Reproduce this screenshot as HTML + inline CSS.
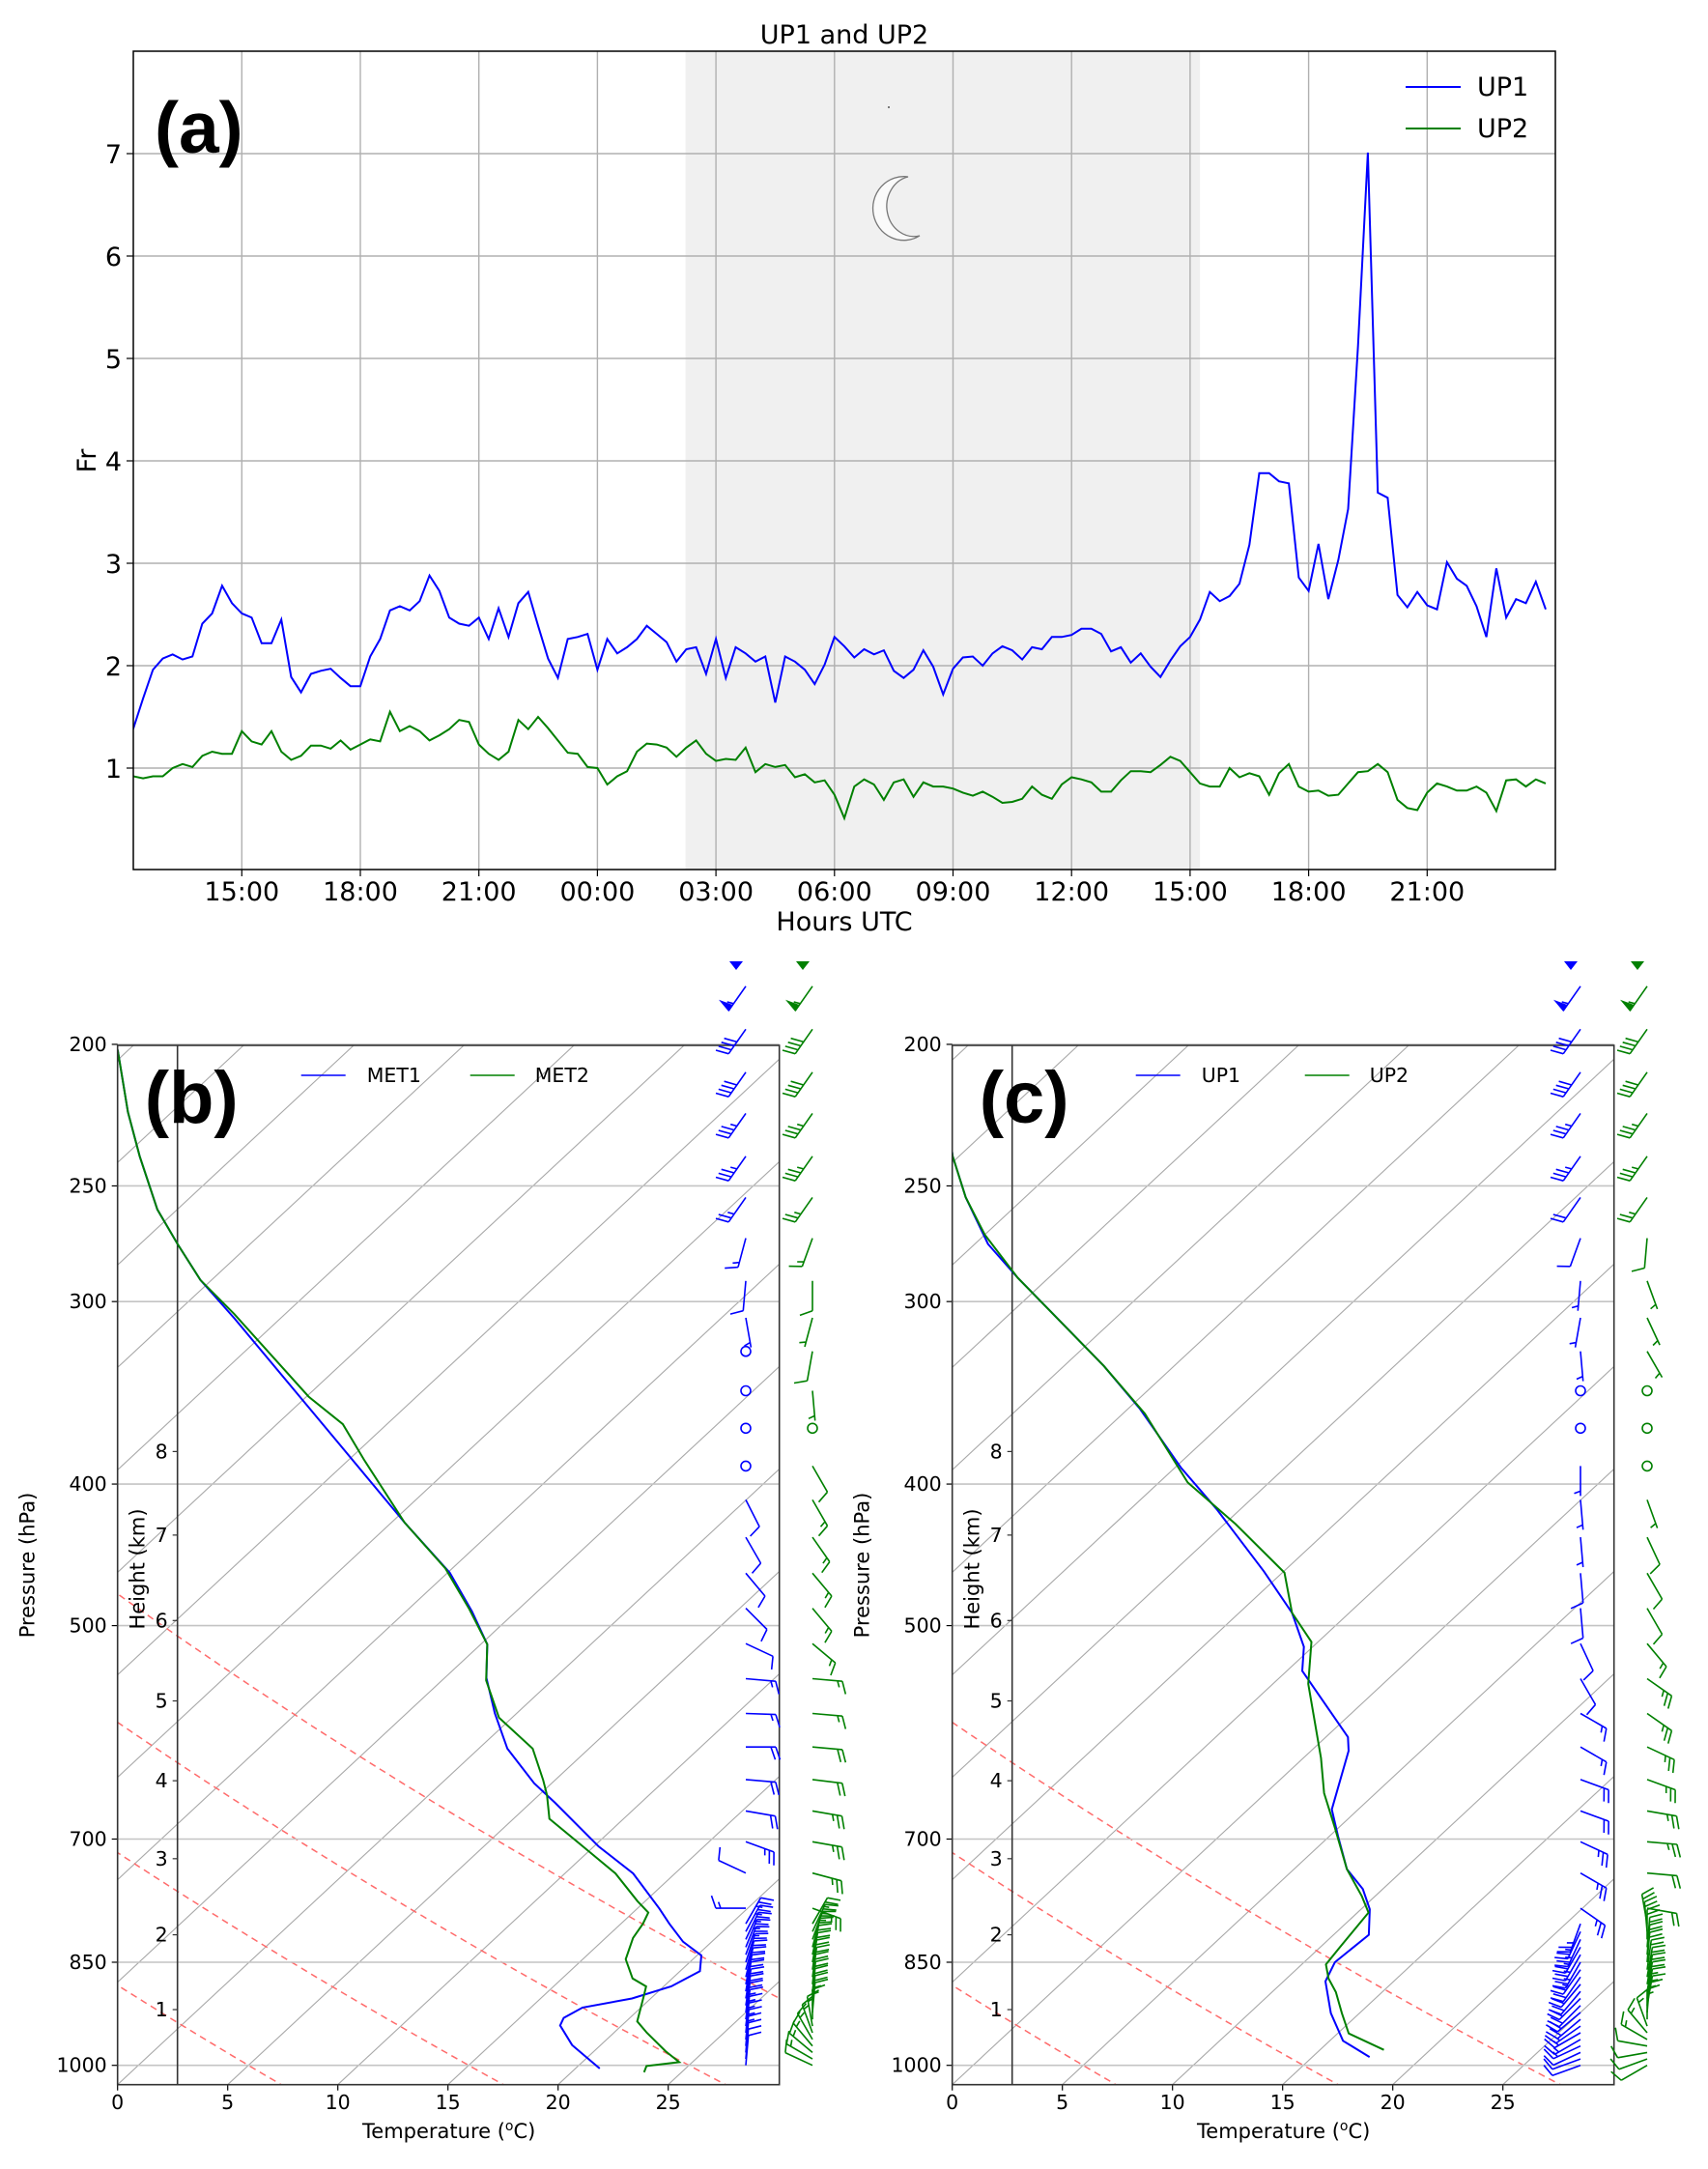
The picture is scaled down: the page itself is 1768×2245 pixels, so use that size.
<!DOCTYPE html>
<html><head><meta charset="utf-8"><style>
html,body{margin:0;padding:0;background:#fff;}
svg{display:block;font-family:"DejaVu Sans","Liberation Sans",sans-serif;}
</style></head><body>
<svg id="fig" width="1768" height="2245" viewBox="0 0 1768 2245" xmlns="http://www.w3.org/2000/svg">
<defs>
<clipPath id="clipA"><rect x="138" y="53" width="1472" height="847"/></clipPath>
<clipPath id="clipB"><rect x="121.7" y="1082" width="685" height="1075.7"/></clipPath>
<clipPath id="clipC"><rect x="985.7" y="1082" width="685" height="1075.7"/></clipPath>
</defs>
<rect width="1768" height="2245" fill="#fff"/>
<g id="panelA"></g>
<g id="panelB"></g>
<g id="panelC"></g>
</svg>
<script>
// ---------- Panel (a) data ----------
const tStart = 12.25;
const tStep = 0.25;
const up1Fr = [1.38,1.68,1.96,2.07,2.11,2.06,2.09,2.41,2.51,2.78, 2.61,2.51,2.47,2.22,2.22,2.45,1.89,1.74,1.92,1.95, 1.97,1.88,1.80,1.80,2.09,2.26,2.54,2.58,2.54,2.63, 2.88,2.73,2.47,2.41,2.39,2.47,2.26,2.56,2.28,2.61, 2.72,2.39,2.07,1.88,2.26,2.28,2.31,1.96,2.26,2.12, 2.18,2.26,2.39,2.31,2.23,2.04,2.16,2.18,1.92,2.26, 1.88,2.18,2.12,2.04,2.09,1.64,2.09,2.04,1.96,1.82, 2.01,2.28,2.19,2.08,2.16,2.11,2.15,1.95,1.88,1.96, 2.15,1.99,1.72,1.97,2.08,2.09,2.00,2.12,2.19,2.15, 2.06,2.18,2.16,2.28,2.28,2.30,2.36,2.36,2.31,2.14, 2.18,2.03,2.12,1.99,1.89,2.05,2.19,2.28,2.45,2.72, 2.63,2.68,2.80,3.18,3.88,3.88,3.80,3.78,2.86,2.73, 3.19,2.65,3.03,3.53,5.12,7.01,3.69,3.64,2.69,2.57, 2.72,2.59,2.55,3.01,2.85,2.78,2.58,2.28,2.95,2.47, 2.65,2.61,2.82,2.55];
const up2Fr = [0.92,0.90,0.92,0.92,1.00,1.04,1.01,1.12,1.16,1.14, 1.14,1.36,1.26,1.23,1.36,1.16,1.08,1.12,1.22,1.22, 1.19,1.27,1.18,1.23,1.28,1.26,1.55,1.36,1.41,1.36, 1.27,1.32,1.38,1.47,1.45,1.23,1.14,1.08,1.16,1.47, 1.38,1.50,1.39,1.27,1.15,1.14,1.01,1.00,0.84,0.92, 0.97,1.16,1.24,1.23,1.20,1.11,1.20,1.27,1.14,1.07, 1.09,1.08,1.20,0.96,1.04,1.01,1.03,0.91,0.94,0.86, 0.88,0.74,0.51,0.82,0.89,0.84,0.69,0.86,0.89,0.72, 0.86,0.82,0.82,0.80,0.76,0.73,0.77,0.72,0.66,0.67, 0.70,0.82,0.74,0.70,0.84,0.91,0.89,0.86,0.77,0.77, 0.88,0.97,0.97,0.96,1.03,1.11,1.07,0.96,0.85,0.82, 0.82,1.00,0.91,0.95,0.92,0.74,0.95,1.04,0.82,0.77, 0.78,0.73,0.74,0.85,0.96,0.97,1.04,0.96,0.69,0.61, 0.59,0.76,0.85,0.82,0.78,0.78,0.82,0.76,0.58,0.88, 0.89,0.82,0.89,0.85];
const xTicksHours = [15,18,21,24,27,30,33,36,39,42,45];
const xTickLabels = ["15:00","18:00","21:00","00:00","03:00","06:00","09:00","12:00","15:00","18:00","21:00"];
const yTicksFr = [1,2,3,4,5,6,7];
const nightStart = 26.23;
const nightEnd = 39.25;

// ---------- Skew-T data (p in hPa, T in °C) ----------
const met1P = [1005,968.5,939,928,913,900,883,862,841,823,800,781,739,708,661,641,607,574,543,515,489,460,425,375.5,353,308,290,274,259.5,238.6,222.5,201.7];
const met1T = [21.1,18.7,17.2,17.0,17.35,19.15,20.34,20.9,20.2,18.7,17.2,16.0,13.1,10.2,6.1,4.2,1.3,-1.0,-3.1,-4.7,-7.0,-9.9,-14.4,-21.2,-24.6,-32.1,-35.5,-38.3,-40.9,-44.3,-47.0,-50.5];
const met2P = [1011,1001,995,978,950,933,894,883,872,846,818,800,786,772,739,712.5,678,653,638,607,578,545,515,486.5,457,425,385,364,348.5,306,290,274,259.5,238.6,222.5,201.7];
const met2T = [23.3,23.1,24.4,23.25,21.5,20.5,19.5,19.2,18.2,16.95,16.24,16.0,15.7,14.65,12.3,9.9,6.63,5.36,4.47,2.45,-0.6,-3.0,-4.7,-7.3,-10.3,-14.4,-19.3,-22.0,-24.9,-32.3,-35.5,-38.3,-40.9,-44.3,-47.0,-50.5];
const up1P = [987,962,921,876,850,814,782,757.5,734,697,668,609,596,537,517,490,459,416,390,355,332,289,274,254.5,238.5,220];
const up1T = [17.6,15.6,13.7,11.9,11.4,11.6,10.4,9.1,7.4,5.4,3.8,1.7,1.0,-4.3,-5.4,-7.6,-10.9,-16.1,-19.7,-24.5,-28.2,-36.4,-39.4,-42.7,-45.3,-48.1];
const up2P = [976,951,921,891,872,853,831,786,766,734,687,651,616,548,513,490,460,426,399,358,332,289,270,254.5,238.5,220];
const up2T = [17.9,15.5,14.2,12.9,11.9,11.1,10.9,10.5,9.4,7.4,4.8,2.65,0.8,-3.4,-5.3,-7.6,-9.9,-14.5,-18.7,-24.0,-28.2,-36.4,-40.0,-42.7,-45.3,-48.1];
const pTicks = [200,250,300,400,500,700,850,1000];
const tTicks = [0,5,10,15,20,25];
const heightKm = [1,2,3,4,5,6,7,8];
const heightP = [915.9,814,722,638.5,563,496,433.5,380];
const thetaB = [278.15,288.15,298.15,308.15];
const thetaC = [278.15,288.15,298.15];

// ---------- Wind barb data ----------
const barbP = [182.5,195.3,209.0,223.0,238.6,254.6,271.5,290.4,307.8,324.5,345.3,366.3,388.8,410.1,435.0,460.3,486.5,514.4,543.6,574.3,605.4,637.3,669.6,703.0,738.5,780.6,800,810,820,830,840,850,860,870,880,890,900,910,920,930,940,950,960,970,980,990,1000];
const bBlueDir = [215,215,215,215,215,215,195,185,170,0,0,0,0,153,150,140,135,115,95,92,90,95,100,110,295,270,30,28,25,22,20,18,16,14,12,10,10,9,8,8,7,6,6,5,5,5,5];
const bBlueSpd = [55,40,40,35,35,25,15,10,5,0,0,0,0,10,10,10,10,10,15,15,20,20,20,25,10,15,25,25,25,25,25,20,20,20,20,20,20,20,20,15,15,15,15,15,10,10,10];
const bGreenDir = [215,215,215,215,215,215,200,180,195,190,175,0,150,150,145,140,140,130,95,95,95,97,100,100,105,110,30,25,20,15,12,10,8,8,6,6,5,5,5,0,350,340,330,320,310,300,295];
const bGreenSpd = [55,40,40,35,35,25,15,10,5,10,5,0,10,15,15,15,15,15,15,15,20,20,25,25,25,25,25,25,25,20,20,20,20,20,20,20,20,20,15,15,15,15,15,15,15,15,10];
const cBlueDir = [215,215,215,215,215,215,200,185,190,175,0,0,180,175,175,175,175,155,150,120,120,110,110,115,120,125,200,205,205,210,210,210,215,215,220,220,225,225,230,230,235,240,240,245,245,250,250];
const cBlueSpd = [55,40,40,35,35,20,10,5,5,5,0,0,5,5,5,10,10,10,10,15,15,20,20,25,25,25,25,25,25,25,25,25,25,20,20,20,20,20,20,20,15,15,15,15,10,10,10];
const cGreenDir = [215,215,215,215,215,215,185,160,155,150,0,0,0,160,155,150,150,140,125,125,115,110,100,95,95,100,350,355,0,5,5,5,8,10,10,10,10,10,5,0,340,320,300,280,260,250,240];
const cGreenSpd = [55,40,40,35,35,25,10,5,5,5,0,0,0,5,10,10,10,15,25,25,25,25,25,25,20,20,20,20,20,20,20,20,20,20,20,20,15,15,15,15,15,15,15,10,10,10,10];

// ---------- helpers ----------
const NS = "http://www.w3.org/2000/svg";
function mk(parent, tag, attrs, text){
  const e = document.createElementNS(NS, tag);
  for (const k in attrs) e.setAttribute(k, attrs[k]);
  if (text !== undefined) e.textContent = text;
  parent.appendChild(e);
  return e;
}
const gA = document.getElementById('panelA');
const gB = document.getElementById('panelB');
const gC = document.getElementById('panelC');

// ---------- Panel (a) ----------
const AX0=138, AX1=1610, AY0=53, AY1=900;
function xA(h){ return 250.3 + (h-15)*40.9; }
function yA(v){ return 901 - v*106; }

let el = mk(gA,'rect',{x:xA(nightStart),y:AY0,width:xA(nightEnd)-xA(nightStart),height:AY1-AY0,fill:'#f0f0f0'});



xTicksHours.forEach((h,i)=>{
  const x = xA(h);
  let g = mk(gA,'line',{x1:x,y1:AY0,x2:x,y2:AY1,stroke:'#b0b0b0','stroke-width':1.4});
  
  
  let t = mk(gA,'line',{x1:x,y1:AY1,x2:x,y2:AY1+7,stroke:'#000','stroke-width':1.2});
  
  
  let l = mk(gA,'text',{x:x,y:932,'font-size':27,'text-anchor':'middle'},xTickLabels[i]);
  
  
});
yTicksFr.forEach(v=>{
  const y = yA(v);
  let g = mk(gA,'line',{x1:AX0,y1:y,x2:AX1,y2:y,stroke:'#b0b0b0','stroke-width':1.4});
  
  
  let t = mk(gA,'line',{x1:AX0-7,y1:y,x2:AX0,y2:y,stroke:'#000','stroke-width':1.2});
  
  
  let l = mk(gA,'text',{x:126,y:y+10,'font-size':27,'text-anchor':'end'},String(v));
  
  
});
function seriesPath(vals){
  return vals.map((v,i)=>(i?'L':'M')+xA(tStart+i*tStep).toFixed(1)+','+yA(v).toFixed(1)).join(' ');
}
el = mk(gA,'path',{d:seriesPath(up2Fr),fill:'none',stroke:'#008000','stroke-width':2,'clip-path':'url(#clipA)'});


el = mk(gA,'path',{d:seriesPath(up1Fr),fill:'none',stroke:'#0000ff','stroke-width':2,'clip-path':'url(#clipA)'});



// moon
el = mk(gA,'path',{d:'M 940 183 A 32 33 0 1 0 952 244 A 27 30 0 1 1 940 183 Z',fill:'#fafafa',stroke:'#777','stroke-width':1.3});


el = mk(gA,'circle',{cx:920,cy:111,r:1,fill:'#555'});



el = mk(gA,'rect',{x:AX0,y:AY0,width:AX1-AX0,height:AY1-AY0,fill:'none',stroke:'#000','stroke-width':1.5});


el = mk(gA,'text',{x:874,y:45,'font-size':27,'text-anchor':'middle'},'UP1 and UP2');


el = mk(gA,'text',{x:874,y:963,'font-size':27,'text-anchor':'middle'},'Hours UTC');


el = mk(gA,'text',{x:99,y:477,'font-size':27,'text-anchor':'middle',transform:'rotate(-90 99 477)'},'Fr');


el = mk(gA,'text',{x:160,y:158,'font-size':75,'font-weight':'bold','font-family':'Liberation Sans, sans-serif'},'(a)');


// legend a
el = mk(gA,'line',{x1:1455,y1:90,x2:1512,y2:90,stroke:'#0000ff','stroke-width':2});


el = mk(gA,'text',{x:1529,y:99,'font-size':27},'UP1');


el = mk(gA,'line',{x1:1455,y1:133,x2:1512,y2:133,stroke:'#008000','stroke-width':2});


el = mk(gA,'text',{x:1529,y:142,'font-size':27},'UP2');



// ---------- Skew-T panels ----------
const SY0=1082, SYB=2157.7, PXC=22.8, SKEW=1.075, SW=685;
function yP(p){ return 2137.7 + 656.6*Math.log(p/1000); }
function xT(ox,T,y){ return ox + PXC*T + SKEW*(SYB - y); }

function skewPanel(g, ox, clipId, label, series, names, thetas, legendNames, barbCols){
  for (let T=-60; T<=30; T+=5){
    let l = mk(g,'line',{x1:xT(ox,T,SYB),y1:SYB,x2:xT(ox,T,SY0),y2:SY0,stroke:'#a8a8a8','stroke-width':1.1,'clip-path':'url(#'+clipId+')'});
    
    
  }
  thetas.forEach(th=>{
    let pts=[];
    for (let p=1035; p>=200; p-=5){
      const y=yP(p); const T=th*Math.pow(p/1000,0.2857)-273.15;
      pts.push(xT(ox,T,y).toFixed(1)+','+y.toFixed(1));
    }
    let l = mk(g,'polyline',{points:pts.join(' '),fill:'none',stroke:'#ff6b6b','stroke-width':1.5,'stroke-dasharray':'7,5','clip-path':'url(#'+clipId+')'});
    
    
  });
  pTicks.forEach(p=>{
    const y=yP(p);
    let l = mk(g,'line',{x1:ox,y1:y,x2:ox+SW,y2:y,stroke:'#c4c4c4','stroke-width':1.6});
    
    
    let t = mk(g,'line',{x1:ox-6,y1:y,x2:ox,y2:y,stroke:'#000','stroke-width':1.2});
    
    
    let tx = mk(g,'text',{x:ox-11,y:y+7,'font-size':20.5,'text-anchor':'end'},String(p));
    
    
  });
  tTicks.forEach(T=>{
    const x=ox+PXC*T;
    let t = mk(g,'line',{x1:x,y1:SYB,x2:x,y2:SYB+6,stroke:'#000','stroke-width':1.2});
    
    
    let tx = mk(g,'text',{x:x,y:2183,'font-size':20.5,'text-anchor':'middle'},String(T));
    
    
  });
  const hx = ox+62;
  let hl = mk(g,'line',{x1:hx,y1:SY0,x2:hx,y2:SYB,stroke:'#333','stroke-width':1.6});
  
  
  heightKm.forEach((k,i)=>{
    const y=yP(heightP[i]);
    let t = mk(g,'line',{x1:hx-5,y1:y,x2:hx,y2:y,stroke:'#333','stroke-width':1.2});
    
    
    let tx = mk(g,'text',{x:hx-10,y:y+7,'font-size':20.5,'text-anchor':'end'},String(k));
    
    
  });
  series.forEach((s,i)=>{
    const pts = s.p.map((p,j)=>{const y=yP(p); return xT(ox,s.t[j],y).toFixed(1)+','+y.toFixed(1);}).join(' ');
    let l = mk(g,'polyline',{points:pts,fill:'none',stroke:s.c,'stroke-width':2,'clip-path':'url(#'+clipId+')'});
    
    
  });
  let fr = mk(g,'rect',{x:ox,y:SY0,width:SW,height:SYB-SY0,fill:'none',stroke:'#333','stroke-width':1.6});
  
  
  let lx = ox+190;
  let s1 = mk(g,'line',{x1:lx,y1:1113,x2:lx+46,y2:1113,stroke:'#0000ff','stroke-width':1.6});
  
  
  let t1 = mk(g,'text',{x:lx+68,y:1120,'font-size':20.5},legendNames[0]);
  
  
  let s2 = mk(g,'line',{x1:lx+175,y1:1113,x2:lx+221,y2:1113,stroke:'#008000','stroke-width':1.6});
  
  
  let t2 = mk(g,'text',{x:lx+242,y:1120,'font-size':20.5},legendNames[1]);
  
  
  let pl = mk(g,'text',{x:ox+28,y:1162,'font-size':76,'font-weight':'bold','font-family':'Liberation Sans, sans-serif'},label);
  
  
  let xt = mk(g,'text',{x:ox+343,y:2213,'font-size':21,'text-anchor':'middle'});
  const ts1 = mk(xt,'tspan',{},'Temperature (');
  
  
  const ts2 = mk(xt,'tspan',{'font-size':14,dy:-8},'o');
  
  
  const ts3 = mk(xt,'tspan',{dy:8},'C)');
  
  
  
  
  let yt = mk(g,'text',{x:ox-86,y:1620,'font-size':21,'text-anchor':'middle',transform:'rotate(-90 '+(ox-86)+' 1620)'},'Pressure (hPa)');
  
  
  let ht = mk(g,'text',{x:ox+28,y:1624,'font-size':21,'text-anchor':'middle',transform:'rotate(-90 '+(ox+28)+' 1624)'},'Height (km)');
  
  
  barbCols.forEach(bc=>{
    let tri = mk(g,'path',{d:'M'+(bc.x-17)+',995 L'+(bc.x-3)+',995 L'+(bc.x-10)+',1004 Z',fill:bc.c});
    
    
    barbP.forEach((p,i)=>drawBarb(g,bc.x,yP(p),bc.dir[i],bc.spd[i],bc.c));
  });
}

function drawBarb(g,x0,y0,dir,spd,col){
  if (spd < 2.5){
    let c = mk(g,'circle',{cx:x0,cy:y0,r:5,fill:'none',stroke:col,'stroke-width':1.6});
    
    
    return;
  }
  const r = dir*Math.PI/180;
  const ux=Math.sin(r), uy=-Math.cos(r);
  const L=31, h=13;
  const ex=x0+ux*L, ey=y0+uy*L;
  const px=-uy, py=ux;
  let d = 'M'+x0.toFixed(1)+','+y0.toFixed(1)+' L'+ex.toFixed(1)+','+ey.toFixed(1);
  let s = Math.round(spd/5)*5;
  let pos = 0;
  let fills = '';
  while (s >= 50){
    const ax=ex-ux*pos, ay=ey-uy*pos;
    const bx=ex-ux*(pos+7), by=ey-uy*(pos+7);
    const tx=ex-ux*(pos+3.5)+px*h, ty=ey-uy*(pos+3.5)+py*h;
    fills += 'M'+ax.toFixed(1)+','+ay.toFixed(1)+' L'+tx.toFixed(1)+','+ty.toFixed(1)+' L'+bx.toFixed(1)+','+by.toFixed(1)+' Z ';
    pos += 9; s -= 50;
  }
  while (s >= 10){
    const ax=ex-ux*pos, ay=ey-uy*pos;
    d += ' M'+ax.toFixed(1)+','+ay.toFixed(1)+' L'+(ax+px*h+ux*h*0.35).toFixed(1)+','+(ay+py*h+uy*h*0.35).toFixed(1);
    pos += 5; s -= 10;
  }
  if (s >= 5){
    if (pos === 0) pos = 5;
    const ax=ex-ux*pos, ay=ey-uy*pos;
    d += ' M'+ax.toFixed(1)+','+ay.toFixed(1)+' L'+(ax+px*h*0.5+ux*h*0.18).toFixed(1)+','+(ay+py*h*0.5+uy*h*0.18).toFixed(1);
  }
  let b = mk(g,'path',{d:d,fill:'none',stroke:col,'stroke-width':1.6});
  
  
  if (fills){
    let f = mk(g,'path',{d:fills,fill:col,stroke:col,'stroke-width':1});
    
    
  }
}

skewPanel(gB,121.7,'clipB','(b)',
  [{p:met1P,t:met1T,c:'#0000ff'},{p:met2P,t:met2T,c:'#008000'}],
  ['met1-profile','met2-profile'], thetaB, ['MET1','MET2'],
  [{x:772,c:'#0000ff',dir:bBlueDir,spd:bBlueSpd},{x:841,c:'#008000',dir:bGreenDir,spd:bGreenSpd}]);
skewPanel(gC,985.7,'clipC','(c)',
  [{p:up1P,t:up1T,c:'#0000ff'},{p:up2P,t:up2T,c:'#008000'}],
  ['up1-profile','up2-profile'], thetaC, ['UP1','UP2'],
  [{x:1636,c:'#0000ff',dir:cBlueDir,spd:cBlueSpd},{x:1705,c:'#008000',dir:cGreenDir,spd:cGreenSpd}]);
</script>
</body></html>
